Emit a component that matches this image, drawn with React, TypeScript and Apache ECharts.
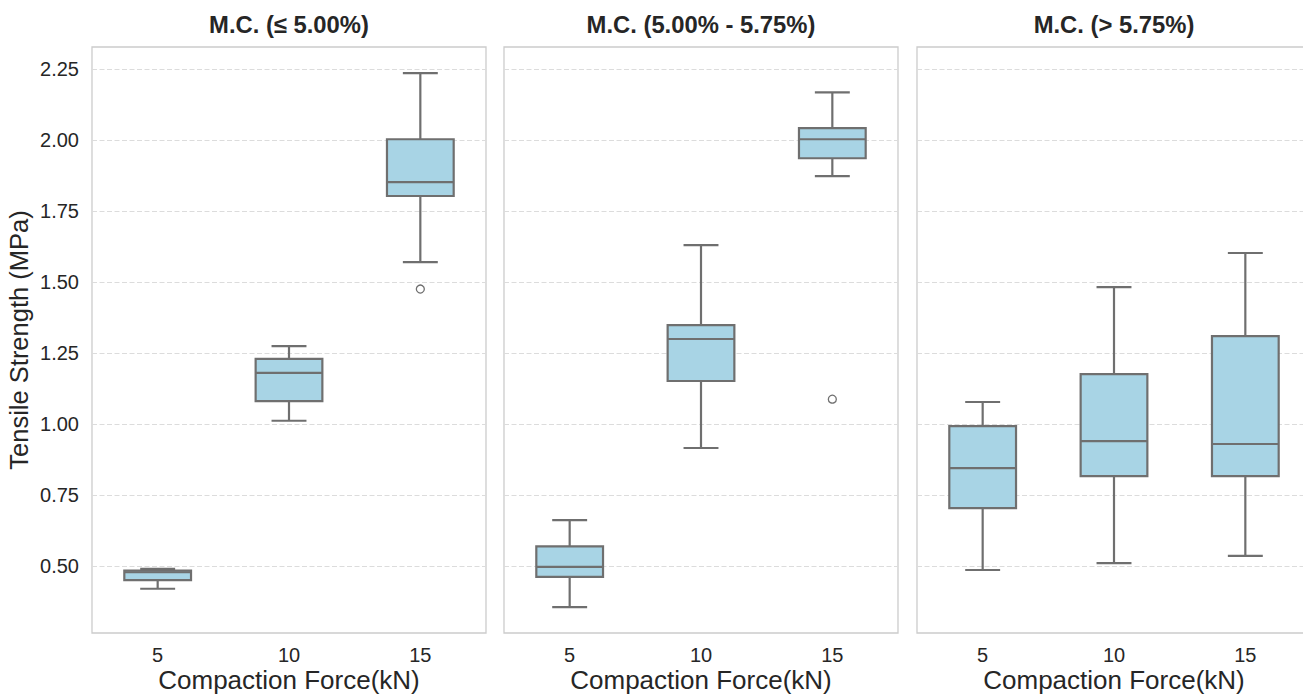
import React, { useEffect, useRef } from 'react';
import * as echarts from 'echarts';

const categories = ['5', '10', '15'];
const panelTitles = ['M.C. (≤ 5.00%)', 'M.C. (5.00% - 5.75%)', 'M.C. (> 5.75%)'];
const yTicks = [0.5, 0.75, 1.0, 1.25, 1.5, 1.75, 2.0, 2.25];
const Y_MIN = 0.264;
const Y_MAX = 2.329;

// [min, q1, median, q3, max] per compaction force
const lowMcStats = [
  [0.42, 0.45, 0.478, 0.484, 0.49],
  [1.012, 1.081, 1.181, 1.23, 1.275],
  [1.571, 1.804, 1.853, 2.004, 2.237],
];
const midMcStats = [
  [0.355, 0.462, 0.497, 0.569, 0.662],
  [0.916, 1.152, 1.3, 1.349, 1.631],
  [1.874, 1.937, 2.004, 2.043, 2.169],
];
const highMcStats = [
  [0.486, 0.704, 0.845, 0.993, 1.078],
  [0.51, 0.817, 0.94, 1.176, 1.483],
  [0.536, 0.817, 0.93, 1.31, 1.603],
];
// [category index, value]
const lowMcOutliers = [[2, 1.476]];
const midMcOutliers = [[2, 1.088]];
const highMcOutliers: number[][] = [];

const FONT = '"Liberation Sans", Arial, sans-serif';
const TEXT = '#262626';
const EDGE = '#6f6f6f';
const FILL = '#a8d4e5';

export default function App() {
  const ref = useRef<HTMLDivElement>(null);
  useEffect(() => {
    if (!ref.current) return;
    const chart = echarts.init(ref.current, null, { renderer: 'svg' });
    const lefts = [92, 504, 917];
    const width = 394;
    const stats = [lowMcStats, midMcStats, highMcStats];
    const outliers = [lowMcOutliers, midMcOutliers, highMcOutliers];

    const renderBox = (params: any, api: any) => {
      const x = api.value(0);
      const band = api.size([1, 0])[0];
      const half = band * 0.254;
      const capHalf = band * 0.133;
      const pMin = api.coord([x, api.value(1)]);
      const pQ1 = api.coord([x, api.value(2)]);
      const pMed = api.coord([x, api.value(3)]);
      const pQ3 = api.coord([x, api.value(4)]);
      const pMax = api.coord([x, api.value(5)]);
      const cx = pMin[0];
      const ls = { stroke: EDGE, lineWidth: 2.2, fill: null };
      return {
        type: 'group',
        children: [
          { type: 'line', shape: { x1: cx, y1: pQ1[1], x2: cx, y2: pMin[1] }, style: ls },
          { type: 'line', shape: { x1: cx, y1: pQ3[1], x2: cx, y2: pMax[1] }, style: ls },
          { type: 'line', shape: { x1: cx - capHalf, y1: pMin[1], x2: cx + capHalf, y2: pMin[1] }, style: ls },
          { type: 'line', shape: { x1: cx - capHalf, y1: pMax[1], x2: cx + capHalf, y2: pMax[1] }, style: ls },
          {
            type: 'rect',
            shape: { x: cx - half, y: pQ3[1], width: half * 2, height: pQ1[1] - pQ3[1] },
            style: { fill: FILL, stroke: EDGE, lineWidth: 2.2 },
          },
          { type: 'line', shape: { x1: cx - half, y1: pMed[1], x2: cx + half, y2: pMed[1] }, style: ls },
        ],
      };
    };

    const option: any = {
      animation: false,
      backgroundColor: '#ffffff',
      textStyle: { fontFamily: FONT },
      grid: lefts.map((left) => ({
        left,
        top: 47,
        width,
        height: 586,
        containLabel: false,
        outerBoundsMode: 'none',
        show: true,
        borderColor: '#cccccc',
        borderWidth: 1.3,
        backgroundColor: 'transparent',
      })),
      xAxis: lefts.map((_, i) => ({
        type: 'category',
        gridIndex: i,
        data: categories,
        boundaryGap: true,
        axisLine: { show: false },
        axisTick: { show: false },
        splitLine: { show: false },
        axisLabel: { fontSize: 20, color: TEXT, margin: 12, fontFamily: FONT },
        name: 'Compaction Force(kN)',
        nameLocation: 'middle',
        nameGap: 34,
        nameMoveOverlap: false,
        nameTextStyle: { fontSize: 26, lineHeight: 26, color: TEXT, fontFamily: FONT },
      })),
      yAxis: lefts.map((_, i) => ({
        type: 'value',
        gridIndex: i,
        min: Y_MIN,
        max: Y_MAX,
        axisLine: { show: false },
        axisTick: { show: false, customValues: yTicks },
        axisLabel: {
          show: i === 0,
          customValues: yTicks,
          formatter: (v: number) => v.toFixed(2),
          fontSize: 20,
          color: TEXT,
          margin: 13,
          fontFamily: FONT,
        },
        splitLine: { show: true, lineStyle: { color: '#dcdcdc', type: [5, 2.5], width: 1 } },
        name: i === 0 ? 'Tensile Strength (MPa)' : '',
        nameLocation: 'middle',
        nameGap: 60,
        nameMoveOverlap: false,
        nameTextStyle: { fontSize: 25.5, color: TEXT, fontFamily: FONT },
      })),
      series: [
        ...stats.map((s, i) => ({
          type: 'custom',
          xAxisIndex: i,
          yAxisIndex: i,
          renderItem: renderBox,
          encode: { x: 0, y: [1, 2, 3, 4, 5] },
          data: s.map((row, k) => [k, ...row]),
          z: 3,
        })),
        ...outliers.map((o, i) => ({
          type: 'scatter',
          xAxisIndex: i,
          yAxisIndex: i,
          data: o,
          symbol: 'circle',
          symbolSize: 8,
          itemStyle: { color: '#ffffff', borderColor: EDGE, borderWidth: 1.3, opacity: 1 },
          z: 4,
        })),
      ],
      graphic: lefts.map((left, i) => ({
        type: 'text',
        x: left + width / 2,
        y: 24,
        style: {
          text: panelTitles[i],
          font: `bold 23.8px ${FONT}`,
          fill: TEXT,
          textAlign: 'center',
          textVerticalAlign: 'middle',
        },
      })),
    };
    chart.setOption(option);
    return () => chart.dispose();
  }, []);
  return <div ref={ref} style={{ position: 'fixed', left: 0, top: 0, width: 1303, height: 695 }} />;
}
